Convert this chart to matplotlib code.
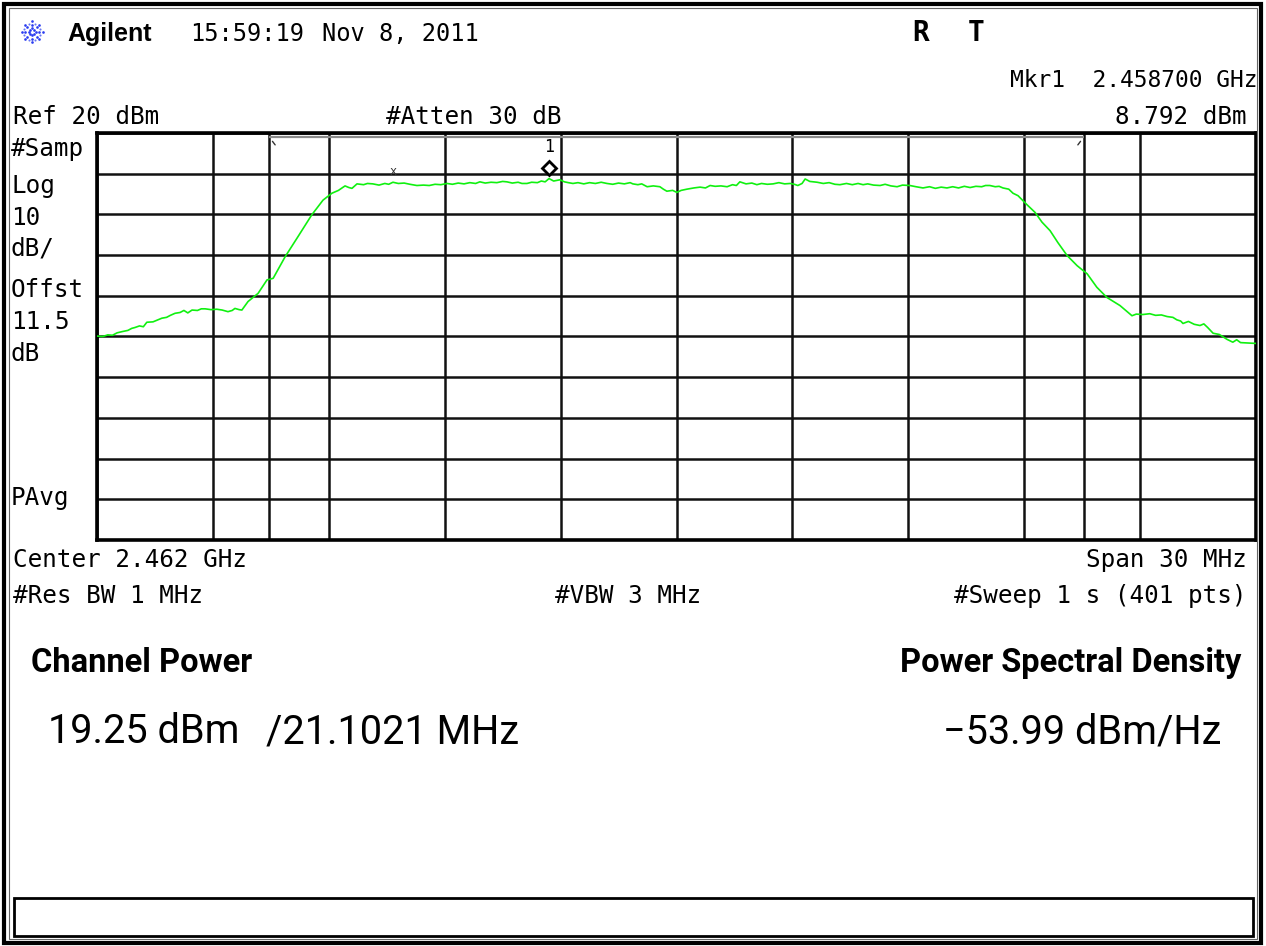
import matplotlib
matplotlib.use("Agg")
import matplotlib.pyplot as plt
from matplotlib.patches import Rectangle
from matplotlib.transforms import offset_copy
import numpy as np

# ---------------- data ----------------
center_mhz = 2462.0
span_mhz = 30.0
ref_level_dbm = 20.0
db_per_div = 10.0
atten_db = 30
offset_db = 11.5
channel_bw_mhz = 21.1021
marker_freq_mhz = 2458.7
marker_level_dbm = 8.792
channel_power_dbm = 19.25
psd_dbm_hz = -53.99
res_bw_mhz = 1
vbw_mhz = 3
sweep_s = 1
sweep_pts = 401

# trace: offset from start frequency (MHz) and level (dBm)
trace_offset_mhz = [
    0.00, 0.15, 0.28, 0.40, 0.52, 0.65, 0.80, 0.90, 0.98, 1.10,
    1.20, 1.29, 1.45, 1.55, 1.68, 1.80, 1.90, 2.02, 2.15, 2.25,
    2.35, 2.46, 2.60, 2.70, 2.80, 2.95, 3.10, 3.24, 3.39, 3.50,
    3.57, 3.68, 3.75, 3.91, 4.17, 4.40, 4.56, 4.87, 5.20, 5.56,
    5.85, 6.08, 6.25, 6.42, 6.52, 6.60, 6.73, 6.90, 7.00, 7.14,
    7.30, 7.45, 7.55, 7.66, 7.80, 7.95, 8.10, 8.28, 8.45, 8.60,
    8.75, 8.90, 9.06, 9.20, 9.35, 9.50, 9.65, 9.80, 9.91, 10.05,
    10.20, 10.35, 10.50, 10.61, 10.75, 10.90, 11.00, 11.13, 11.25, 11.40,
    11.50, 11.60, 11.70, 11.82, 11.98, 12.10, 12.20, 12.32, 12.45, 12.60,
    12.75, 12.90, 13.05, 13.20, 13.35, 13.50, 13.65, 13.80, 13.87, 14.00,
    14.10, 14.24, 14.40, 14.57, 14.66, 14.75, 14.90, 15.01, 15.12, 15.27,
    15.45, 15.61, 15.75, 15.87, 16.00, 16.15, 16.31, 16.45, 16.55, 16.64,
    16.80, 16.95, 17.08, 17.20, 17.35, 17.50, 17.65, 17.80, 17.94, 18.05,
    18.14, 18.25, 18.33, 18.45, 18.64, 18.80, 18.95, 19.10, 19.23, 19.40,
    19.55, 19.70, 19.83, 19.95, 20.10, 20.27, 20.40, 20.55, 20.71, 20.85,
    21.04, 21.20, 21.38, 21.55, 21.70, 21.85, 22.00, 22.15, 22.30, 22.45,
    22.60, 22.75, 22.90, 23.00, 23.11, 23.25, 23.35, 23.45, 23.60, 23.71,
    23.84, 24.07, 24.28, 24.46, 24.67, 24.87, 25.11, 25.37, 25.63, 25.88,
    26.14, 26.48, 26.79, 26.90, 27.07, 27.25, 27.40, 27.55, 27.70, 27.85,
    27.95, 28.05, 28.11, 28.25, 28.40, 28.55, 28.65, 28.75, 28.89, 29.05,
    29.15, 29.25, 29.40, 29.50, 29.60, 29.80, 30.00]
trace_level_dbm = [
    -29.9, -30.0, -29.6, -29.7, -29.1, -28.8, -28.5, -28.0, -27.8, -27.4,
    -27.6, -26.5, -26.4, -26.0, -25.5, -25.3, -24.8, -24.3, -24.1, -23.6,
    -24.2, -23.5, -23.6, -23.2, -23.2, -23.4, -23.3, -23.5, -23.9, -23.6,
    -23.1, -23.4, -23.5, -21.4, -19.4, -16.1, -15.7, -10.4, -5.5, -0.1,
    3.5, 5.2, 5.9, 7.0, 6.6, 6.4, 7.5, 7.3, 7.6, 7.5,
    7.2, 7.6, 7.4, 7.9, 7.6, 7.7, 7.4, 7.1, 7.2, 7.1,
    7.4, 7.3, 7.6, 7.4, 7.7, 7.5, 7.8, 7.6, 8.0, 7.7,
    7.9, 7.8, 8.1, 8.0, 7.7, 7.9, 7.6, 7.6, 7.9, 7.8,
    8.2, 8.0, 8.8, 8.2, 8.5, 8.0, 7.8, 7.6, 7.8, 7.5,
    7.8, 7.6, 7.9, 7.6, 7.4, 7.7, 7.5, 7.8, 7.5, 7.3,
    7.5, 6.8, 7.0, 6.8, 6.2, 5.7, 5.9, 5.4, 5.9, 6.2,
    6.5, 6.7, 6.5, 7.1, 6.9, 7.0, 6.8, 7.3, 7.1, 8.0,
    7.5, 7.7, 7.3, 7.6, 7.4, 7.5, 7.8, 7.5, 7.6, 7.4,
    7.1, 7.6, 8.7, 8.1, 7.9, 7.6, 7.8, 7.4, 7.3, 7.6,
    7.3, 7.6, 7.3, 7.5, 7.2, 7.1, 7.4, 7.0, 6.8, 7.2,
    7.1, 6.8, 6.5, 6.8, 6.4, 6.7, 6.5, 6.8, 6.5, 6.9,
    6.6, 6.9, 6.8, 7.1, 7.1, 6.8, 6.9, 6.5, 6.2, 5.2,
    4.6, 2.4, 0.5, -1.9, -4.0, -6.9, -10.1, -12.6, -14.6, -17.9,
    -20.4, -22.4, -24.9, -24.5, -24.6, -24.4, -24.8, -24.7, -25.1, -25.3,
    -25.9, -26.2, -26.8, -26.3, -27.0, -27.3, -26.9, -27.8, -29.2, -29.5,
    -30.1, -30.7, -31.4, -30.8, -31.5, -31.6, -31.7]

side_labels = ["#Samp", "Log", f"{db_per_div:g}", "dB/", "Offst", f"{offset_db:g}", "dB", "PAvg"]

# ---------------- figure ----------------
MONO = "DejaVu Sans Mono"
SANS = "Roboto"
W, H = 1266, 946
fig = plt.figure(figsize=(W / 100, H / 100), dpi=100)
fig.patch.set_facecolor("white")


def fx(x):
    return x / W


def fy(y):
    return 1 - y / H


def ftext(x, y, s, ha="left", fs=17.5, family=MONO, weight="normal", color="black"):
    fig.text(fx(x), fy(y), s, ha=ha, va="baseline", fontsize=fs,
             family=family, fontweight=weight, color=color)


# outer frame + status box
fig.add_artist(Rectangle((fx(4), fy(943)), fx(1257), 939 / H, transform=fig.transFigure,
                         fill=False, lw=3, ec="black"))
fig.add_artist(Rectangle((fx(8.5), fy(938.5)), fx(1248), 930 / H, transform=fig.transFigure,
                         fill=False, lw=0.8, ec="#666666"))
fig.add_artist(Rectangle((fx(14), fy(936)), fx(1239), 38 / H, transform=fig.transFigure,
                         fill=False, lw=2, ec="black"))

# ---------------- axes ----------------
start = center_mhz - span_mhz / 2
stop = center_mhz + span_mhz / 2
bottom = ref_level_dbm - 10 * db_per_div
ax = fig.add_axes([fx(97), fy(540), 1159 / W, 407 / H])
ax.set_xlim(start, stop)
ax.set_ylim(bottom, ref_level_dbm)
ax.set_xticks(np.linspace(start, stop, 11))
ax.set_yticks(np.linspace(bottom, ref_level_dbm, 11))
ax.tick_params(length=0, labelbottom=False, labelleft=False)
ax.grid(True, color="#111111", lw=1.8)
for sp in ax.spines.values():
    sp.set_linewidth(2.6)
    sp.set_color("black")

ch_lo = center_mhz - channel_bw_mhz / 2
ch_hi = center_mhz + channel_bw_mhz / 2
for f in (ch_lo, ch_hi):
    ax.axvline(f, color="#111111", lw=1.8)
# channel bracket just under the top border
xt = ax.get_xaxis_transform()
ax.plot([ch_lo, ch_hi], [0.989, 0.989], transform=xt, color="#8a8a8a", lw=1.6, solid_capstyle="butt")
ax.annotate("", xy=(ch_lo + 0.05, 0.985), xycoords=xt, xytext=(6, -8), textcoords="offset pixels",
            arrowprops=dict(arrowstyle="-", color="#333333", lw=1.0))
ax.annotate("", xy=(ch_hi - 0.05, 0.985), xycoords=xt, xytext=(-6, -8), textcoords="offset pixels",
            arrowprops=dict(arrowstyle="-", color="#333333", lw=1.0))

# trace
freqs = start + np.array(trace_offset_mhz)
ax.plot(freqs, trace_level_dbm, color="#10f010", lw=1.2, zorder=5)

# marker 1
ax.plot([marker_freq_mhz], [marker_level_dbm], marker="D", ms=7.3, mfc="white", mec="black",
        mew=2.0, ls="none", zorder=6,
        transform=offset_copy(ax.transData, fig=fig, x=0, y=11, units="dots"))
ax.annotate("1", (marker_freq_mhz, marker_level_dbm), xytext=(0, 32), textcoords="offset pixels",
            ha="center", va="center", fontsize=12, family=MONO)
# small peak tick near the left of the plateau
ax.annotate("x", (start + trace_offset_mhz[53], trace_level_dbm[53]), xytext=(0, 11),
            textcoords="offset pixels", ha="center", va="center", fontsize=8.5, family=MONO,
            color="#333333")

# ---------------- header ----------------
# Agilent spark
cx, cy = 32, 32
for ang in np.arange(0, 360, 45):
    for r in (3.5, 7, 10.5):
        fig.add_artist(plt.Line2D([fx(cx + r * np.cos(np.radians(ang)))],
                                  [fy(cy + r * np.sin(np.radians(ang)))],
                                  marker="o", ms=1.9, color="#2a3cf0", mew=0,
                                  transform=fig.transFigure))
for ang in np.arange(22.5, 360, 45):
    r = 9
    fig.add_artist(plt.Line2D([fx(cx + r * np.cos(np.radians(ang)))],
                              [fy(cy + r * np.sin(np.radians(ang)))],
                              marker="o", ms=1.5, color="#6a78f5", mew=0,
                              transform=fig.transFigure))
ftext(67, 41, "Agilent", fs=18, family="Liberation Sans", weight="bold")
ftext(190, 41, "15:59:19", fs=17)
ftext(322, 41, "Nov 8, 2011", fs=17)
ftext(912, 41, "R", fs=20, weight="bold")
ftext(968, 41, "T", fs=20, weight="bold")

ftext(1257, 87, f"Mkr1  {marker_freq_mhz / 1000:.6f} GHz", ha="right", fs=16.5)
ftext(13, 124, f"Ref {ref_level_dbm:g} dBm", fs=17.5)
ftext(386, 124, f"#Atten {atten_db} dB", fs=17.5)
ftext(1247, 124, f"{marker_level_dbm:.3f} dBm", ha="right", fs=17.5)

side_y = [156, 193, 225, 256, 297, 329, 361, 505]
for lab, y in zip(side_labels, side_y):
    ftext(11, y, lab, fs=17.5)

# ---------------- footer ----------------
ftext(13, 567, f"Center {center_mhz / 1000:.3f} GHz", fs=17.5)
ftext(1247, 567, f"Span {span_mhz:g} MHz", ha="right", fs=17.5)
ftext(13, 603, f"#Res BW {res_bw_mhz} MHz", fs=17.5)
ftext(555, 603, f"#VBW {vbw_mhz} MHz", fs=17.5)
ftext(1247, 603, f"#Sweep {sweep_s} s ({sweep_pts} pts)", ha="right", fs=17.5)

ftext(31, 672, "Channel Power", fs=23.5, family=SANS, weight="bold")
ftext(1241, 672, "Power Spectral Density", ha="right", fs=23.5, family=SANS, weight="bold")
ftext(48, 743, f"{channel_power_dbm:.2f} dBm", fs=28.5, family=SANS)
ftext(266, 743, f"/{channel_bw_mhz:.4f} MHz", fs=28.5, family=SANS)
ftext(1221, 743, f"\u2212{abs(psd_dbm_hz):.2f} dBm/Hz", ha="right", fs=28.5, family=SANS)

fig.savefig("out.png", dpi=100, facecolor="white")
